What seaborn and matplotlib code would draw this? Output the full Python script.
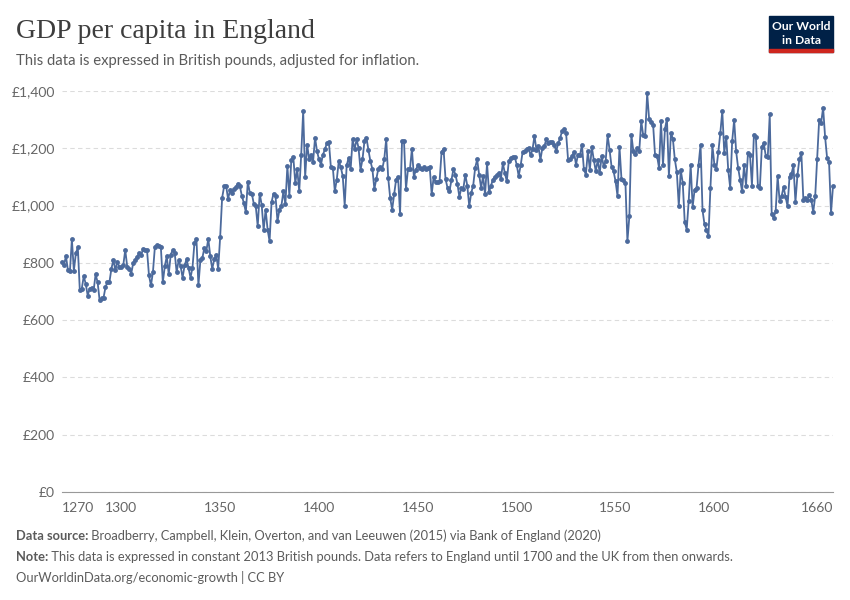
import matplotlib
matplotlib.use("Agg")
import matplotlib.pyplot as plt
import matplotlib.patches as mpatches
import pandas as pd
import seaborn as sns

# GDP per capita in England, constant 2013 British pounds
years = list(range(1270, 1661))
gdp_per_capita = [
    804, 792, 824, 774, 770, 882, 772, 833, 854, 706,            # 1270s
    710, 753, 727, 686, 710, 713, 704, 760, 733, 671,            # 1280s
    676, 678, 715, 733, 733, 780, 810, 774, 804, 786,            # 1290s
    786, 792, 845, 786, 780, 762, 798, 810, 821, 833,            # 1300s
    827, 847, 845, 845, 756, 721, 768, 857, 862, 860,            # 1310s
    856, 732, 788, 823, 760, 829, 844, 835, 767, 809,            # 1320s
    788, 748, 791, 812, 783, 748, 783, 870, 884, 721,            # 1330s
    809, 817, 852, 841, 884, 823, 779, 812, 829, 779,            # 1340s
    890, 1027, 1067, 1070, 1023, 1053, 1044, 1058, 1065, 1077,   # 1350s
    1067, 1033, 1009, 977, 1084, 1044, 1042, 1007, 998, 928,     # 1360s
    1042, 1003, 914, 986, 916, 875, 1012, 1042, 1033, 945,       # 1370s
    986, 1000, 1050, 1004, 1138, 1035, 1159, 1170, 1079, 1126,   # 1380s
    1050, 1178, 1330, 1100, 1213, 1163, 1175, 1152, 1237, 1190,  # 1390s
    1161, 1143, 1178, 1196, 1219, 1222, 1135, 1132, 1050, 1091,  # 1400s
    1155, 1135, 1103, 1000, 1140, 1167, 1126, 1231, 1196, 1231,  # 1410s
    1202, 1124, 1161, 1225, 1237, 1194, 1155, 1128, 1058, 1093,  # 1420s
    1128, 1135, 1128, 1161, 1233, 1097, 1027, 986, 1039, 1091,   # 1430s
    1100, 971, 1225, 1225, 1058, 1126, 1127, 1198, 1100, 1125,   # 1440s
    1140, 1132, 1126, 1135, 1126, 1130, 1135, 1039, 1100, 1082,  # 1450s
    1082, 1085, 1187, 1198, 1093, 1062, 1050, 1089, 1128, 1108,  # 1460s
    1077, 1030, 1062, 1058, 1108, 1070, 998, 1044, 1070, 1132,   # 1470s
    1161, 1108, 1062, 1103, 1039, 1147, 1047, 1070, 1091, 1100,  # 1480s
    1108, 1114, 1093, 1147, 1114, 1085, 1155, 1167, 1168, 1170,  # 1490s
    1143, 1103, 1140, 1187, 1190, 1198, 1202, 1175, 1196, 1243,  # 1500s
    1194, 1208, 1159, 1202, 1208, 1231, 1219, 1222, 1222, 1213,  # 1510s
    1190, 1217, 1237, 1260, 1266, 1252, 1159, 1161, 1173, 1187,  # 1520s
    1143, 1178, 1175, 1213, 1126, 1108, 1190, 1124, 1205, 1159,  # 1530s
    1120, 1159, 1114, 1173, 1138, 1155, 1245, 1194, 1135, 1120,  # 1540s
    1085, 1033, 1205, 1093, 1088, 1080, 875, 963, 1248, 1190,    # 1550s
    1180, 1200, 1190, 1295, 1245, 1243, 1392, 1301, 1292, 1283,  # 1560s
    1175, 1173, 1132, 1295, 1140, 1268, 1303, 1103, 1254, 1233,  # 1570s
    1161, 1117, 998, 1124, 1079, 942, 916, 1015, 1143, 995,      # 1580s
    1056, 1062, 1143, 1213, 984, 934, 915, 893, 1062, 1210,      # 1590s
    1143, 1128, 1187, 1254, 1330, 1184, 1240, 1124, 1062, 1225,  # 1600s
    1299, 1190, 1132, 1091, 1050, 1140, 1070, 1184, 1178, 1070,  # 1610s
    1248, 1240, 1070, 1062, 1205, 1217, 1173, 1170, 1318, 969,   # 1620s
    957, 980, 1103, 1015, 1033, 1065, 1030, 998, 1100, 1111,     # 1630s
    1140, 1012, 1105, 1163, 1182, 1021, 1025, 1021, 1036, 1021,  # 1640s
    977, 1033, 1163, 1299, 1289, 1342, 1240, 1167, 1152, 974,    # 1650s
    1068,                                                        # 1660
]

y_ticks = [0, 200, 400, 600, 800, 1000, 1200, 1400]
x_ticks = [1270, 1300, 1350, 1400, 1450, 1500, 1550, 1600, 1660]

title = "GDP per capita in England"
subtitle = "This data is expressed in British pounds, adjusted for inflation."
source_label = "Data source:"
source_text = " Broadberry, Campbell, Klein, Overton, and van Leeuwen (2015) via Bank of England (2020)"
note_label = "Note:"
note_text = (" This data is expressed in constant 2013 British pounds. Data refers to England "
             "until 1700 and the UK from then onwards.")
url_text = "OurWorldinData.org/economic-growth | CC BY"

sns.set_style("white")
plt.rcParams["font.family"] = ["Lato", "DejaVu Sans"]

LINE_COLOR = "#4c6a9c"
TEXT_DARK = "#3d3d3d"
TEXT_GREY = "#5b5b5b"
W, H = 850, 600

df = pd.DataFrame({"year": years, "gdp": gdp_per_capita})

fig = plt.figure(figsize=(W / 100, H / 100), dpi=100)
ax = fig.add_axes([62 / W, 1 - 492 / H, (833 - 62) / W, (492 - 91) / H])

sns.lineplot(data=df, x="year", y="gdp", ax=ax, color=LINE_COLOR, linewidth=1.3,
             marker="o", markersize=3.5, markeredgewidth=0, clip_on=False)

ax.set_xlim(1270, 1660)
ax.set_ylim(0, 1400)
ax.set_yticks(y_ticks)
ax.set_yticklabels([f"£{v:,}" for v in y_ticks])
ax.set_xticks(x_ticks)
ax.set_xticklabels([str(v) for v in x_ticks])
ax.set_xlabel("")
ax.set_ylabel("")

ax.yaxis.grid(True, linestyle=(0, (4, 3)), color="#dcdcdc", linewidth=0.8)
ax.xaxis.grid(False)
for side in ["left", "right", "top"]:
    ax.spines[side].set_visible(False)
ax.spines["bottom"].set_color("#999999")
ax.spines["bottom"].set_linewidth(0.8)
ax.tick_params(axis="y", length=0, pad=5, labelsize=10, labelcolor="#666666")
ax.tick_params(axis="x", length=4, width=0.8, color="#999999", pad=3,
               labelsize=10, labelcolor="#666666")
xlabels = ax.get_xticklabels()
xlabels[0].set_ha("left")
xlabels[-1].set_ha("right")
ax.set_axisbelow(True)

# header
fig.text(16 / W, 1 - 31 / H, title, fontsize=20, color=TEXT_DARK,
         family=["Liberation Serif", "DejaVu Serif"], va="center", ha="left")
fig.text(16 / W, 1 - 61 / H, subtitle, fontsize=10.7, color=TEXT_GREY,
         va="center", ha="left")

# logo
fig.patches.append(mpatches.Rectangle((769 / W, 1 - 52 / H), 64 / W, 36 / H,
                                      transform=fig.transFigure, color="#002147"))
fig.patches.append(mpatches.Rectangle((769 / W, 1 - 52 / H), 64 / W, 3 / H,
                                      transform=fig.transFigure, color="#ce261e"))
fig.text(801 / W, 1 - 27 / H, "Our World", fontsize=8.7, color="white",
         weight="bold", ha="center", va="center")
fig.text(801 / W, 1 - 40 / H, "in Data", fontsize=8.7, color="white",
         weight="bold", ha="center", va="center")

# footer with bold prefixes
renderer = fig.canvas.get_renderer()
for y_px, label, rest in [(536, source_label, source_text), (557, note_label, note_text)]:
    t = fig.text(16 / W, 1 - y_px / H, label, fontsize=9.3, color=TEXT_GREY,
                 weight="bold", va="center", ha="left")
    width = t.get_window_extent(renderer).width
    fig.text((16 + width) / W, 1 - y_px / H, rest, fontsize=9.3, color=TEXT_GREY,
             va="center", ha="left")
fig.text(16 / W, 1 - 578 / H, url_text, fontsize=9.3, color=TEXT_GREY,
         va="center", ha="left")

fig.savefig("out.png", dpi=100)
